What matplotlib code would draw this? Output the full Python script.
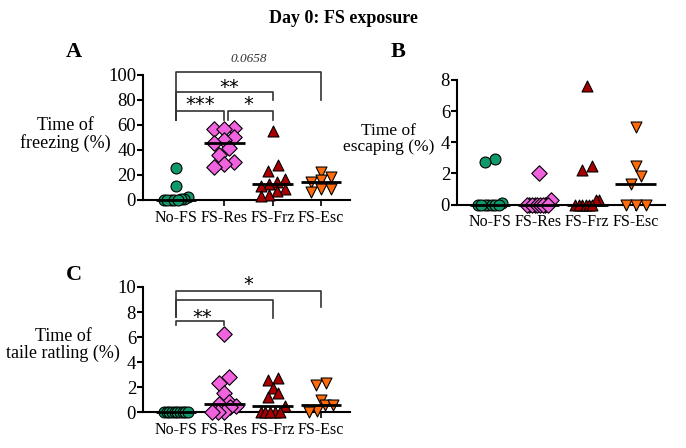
import matplotlib
matplotlib.use('Agg')
import matplotlib.pyplot as plt
import numpy as np

plt.rcParams['font.family'] = ['Liberation Serif', 'DejaVu Serif']

groups = ['No-FS', 'FS-Res', 'FS-Frz', 'FS-Esc']
colors = ['#109A6C', '#F062DE', '#A80000', '#FF6A0A']
markers = ['o', 'D', '^', 'v']

# freezing (%)
freeze = [
    [25.5, 11, 2, 1, 0.5, 0, 0, 0, 0, 0],
    [57.3, 56.5, 56.5, 50.7, 48, 45.9, 41.3, 36, 30.7, 28.8, 26.7],
    [55.5, 28, 23, 17, 14.5, 12.5, 11, 9, 7, 4, 3],
    [22.5, 18.5, 16, 14, 9, 9, 6.5],
]
# escaping (%)
escape = [
    [2.9, 2.7, 0.1, 0, 0, 0, 0, 0, 0, 0],
    [2.0, 0.3, 0, 0, 0, 0, 0, 0, 0, 0, 0],
    [7.6, 2.5, 2.2, 0.3, 0.3, 0, 0, 0, 0, 0, 0],
    [5.0, 2.5, 1.8, 1.3, 0, 0, 0],
]
# tail rattling (%)
rattle = [
    [0, 0, 0, 0, 0, 0, 0, 0, 0, 0],
    [6.24, 2.85, 2.3, 1.5, 0.85, 0.7, 0.5, 0.4, 0.05, 0, 0],
    [2.7, 2.6, 1.9, 1.5, 1.2, 0.5, 0, 0, 0, 0, 0],
    [2.35, 2.2, 1.0, 0.6, 0.6, 0.1, 0],
]

# brackets: (group a, group b, bar height, left leg end, right leg end)
freeze_brackets = [(0, 3, 102.6, 64, 80), (0, 2, 86.7, 64, 80),
                   (0, 1, 71.5, 64, 64), (1.08, 2, 71.5, 64, 64)]
freeze_labels = [(1.5, 108, '0.0658', 'italic'), (1.1, 90, '**', 'normal'),
                 (0.5, 76, '***', 'normal'), (1.5, 76, '*', 'normal')]
rattle_brackets = [(0, 3, 9.65, 7.6, 8.4), (0, 2, 9.0, 7.6, 7.55),
                   (0, 1, 7.25, 6.95, 6.95)]
rattle_labels = [(1.5, 10.2, '*', 'normal'), (0.55, 7.6, '**', 'normal')]


def scatter_rows(ax, vals, center, row_px=8.0, mark_px=10.0, max_px=24.0):
    # Prism-like column scatter: near-equal values share a row, spread sideways
    to_disp = ax.transData
    inv = to_disp.inverted()
    order = np.argsort(vals)
    xs = np.zeros(len(vals))
    rows = []
    for idx in order:
        py = to_disp.transform((center, vals[idx]))[1]
        if rows and py - rows[-1][0] < row_px:
            rows[-1][1].append(idx)
        else:
            rows.append([py, [idx]])
    cx = to_disp.transform((center, 0))[0]
    for py, members in rows:
        n = len(members)
        sp = mark_px if n < 2 else min(mark_px, max_px / (n - 1))
        for j, idx in enumerate(members):
            xs[idx] = inv.transform((cx + (j - (n - 1) / 2) * sp, py))[0]
    return xs


def panel(ax, data, ylim, yticks):
    ax.set_xlim(-0.68, 3.6)
    ax.set_ylim(*ylim)
    for sp in ['top', 'right']:
        ax.spines[sp].set_visible(False)
    for sp in ['left', 'bottom']:
        ax.spines[sp].set_linewidth(1.5)
    ax.set_yticks(yticks)
    ax.set_xticks(range(len(groups)))
    ax.set_xticklabels(groups, fontsize=11.5)
    ax.tick_params(axis='y', labelsize=13.5, width=1.5, length=4, pad=1)
    ax.tick_params(axis='x', width=1.2, length=4, pad=3)
    for i, vals in enumerate(data):
        xs = scatter_rows(ax, vals, i)
        ax.scatter(xs, vals, marker=markers[i], s=62, c=colors[i],
                   edgecolors='black', linewidths=0.8, zorder=3, clip_on=False)
        med = np.median(vals)
        ax.plot([i - 0.42, i + 0.42], [med, med], color='black', lw=2, zorder=4,
                solid_capstyle='butt', clip_on=False)


def brackets(ax, items, labels, fs_star=14):
    for a, b, h, la, lb in items:
        ax.plot([a, a, b, b], [la, h, h, lb], color='#333333', lw=1.2, clip_on=False)
    for x, y, s, st in labels:
        if st == 'italic':
            ax.text(x, y, s, ha='center', va='bottom', fontsize=9.5, style='italic',
                    color='#333333')
        else:
            ax.text(x, y, s, ha='center', va='center', fontsize=fs_star,
                    family='DejaVu Sans')


fig = plt.figure(figsize=(6.86, 4.48), dpi=100)
axA = fig.add_axes([0.2085, 0.5536, 0.3017, 0.279])
axB = fig.add_axes([0.6662, 0.5435, 0.3032, 0.278])
axC = fig.add_axes([0.2085, 0.0797, 0.3017, 0.2797])

panel(axA, freeze, (0, 100), [0, 20, 40, 60, 80, 100])
panel(axB, escape, (0, 8), [0, 2, 4, 6, 8])
panel(axC, rattle, (0, 10), [0, 2, 4, 6, 8, 10])
brackets(axA, freeze_brackets, freeze_labels)
brackets(axC, rattle_brackets, rattle_labels)

fig.text(0.5, 0.958, 'Day 0: FS exposure', ha='center', va='center',
         fontsize=13, fontweight='bold')
fig.text(0.107, 0.883, 'A', fontsize=16, fontweight='bold', ha='center', va='center')
fig.text(0.580, 0.883, 'B', fontsize=16, fontweight='bold', ha='center', va='center')
fig.text(0.108, 0.386, 'C', fontsize=16, fontweight='bold', ha='center', va='center')

fig.text(0.095, 0.70, 'Time of\nfreezing (%)', ha='center', va='center',
         fontsize=13, linespacing=1.0)
fig.text(0.566, 0.69, 'Time of\nescaping (%)', ha='center', va='center',
         fontsize=12.5, linespacing=1.0)
fig.text(0.092, 0.23, 'Time of\ntaile ratling (%)', ha='center', va='center',
         fontsize=13, linespacing=1.0)

fig.savefig('out.png', dpi=100)
